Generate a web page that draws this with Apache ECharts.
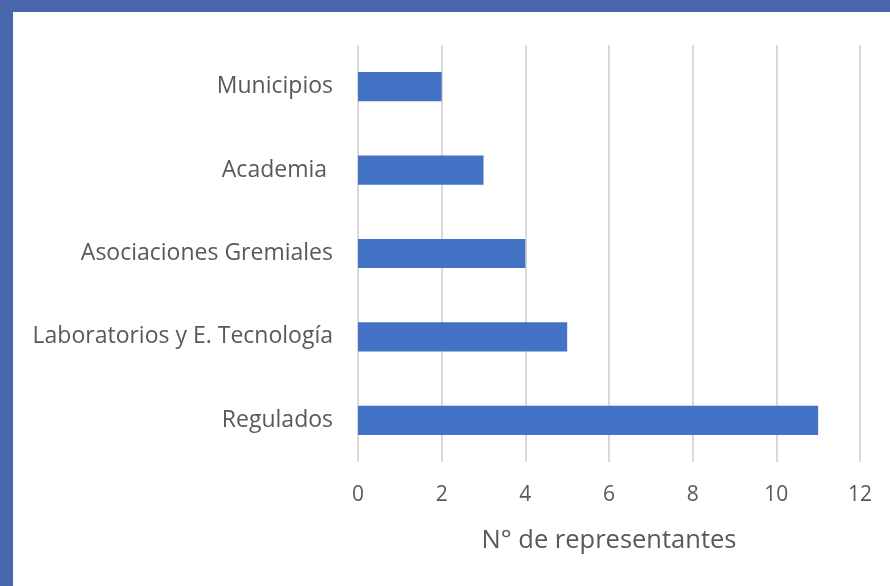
<!DOCTYPE html>
<html>
<head>
<meta charset="utf-8">
<script src="https://cdn.jsdelivr.net/npm/echarts@6/dist/echarts.min.js"></script>
<style>
  html, body { margin: 0; padding: 0; background: #fff; }
  #chart {
    width: 890px;
    height: 586px;
    box-sizing: border-box;
    border-left: 13px solid #4a66ac;
    border-top: 12px solid #4a66ac;
  }
</style>
</head>
<body>
<div id="chart"></div>
<script>
// categories listed bottom to top, as ECharts draws a category y axis
const categories = ['Regulados', 'Laboratorios y E. Tecnología', 'Asociaciones Gremiales', 'Academia ', 'Municipios']
const representantes = [11, 5, 4, 3, 2]
const axisName = 'N° de representantes'

const font = '"Open Sans", "Noto Sans", sans-serif'
const chart = echarts.init(document.getElementById('chart'))

chart.setOption({
  animation: false,
  grid: { left: 345, right: 30, top: 33, bottom: 124 },
  xAxis: {
    type: 'value',
    min: 0,
    max: 12,
    interval: 2,
    name: axisName,
    nameLocation: 'middle',
    nameGap: 66,
    nameTextStyle: { color: '#595959', fontSize: 25.5, fontFamily: font },
    axisLine: { show: false },
    axisTick: { show: false },
    axisLabel: { color: '#595959', fontSize: 21, fontFamily: font, margin: 23 },
    splitLine: { lineStyle: { color: '#d9d9d9', width: 2 } },
  },
  yAxis: {
    type: 'category',
    data: categories,
    axisLine: { show: false },
    axisTick: { show: false },
    axisLabel: { color: '#595959', fontSize: 23, fontFamily: font, margin: 25 },
  },
  series: [{
    type: 'bar',
    data: representantes,
    barWidth: '35%',
    itemStyle: { color: '#4472c4' },
  }],
})
</script>
</body>
</html>
